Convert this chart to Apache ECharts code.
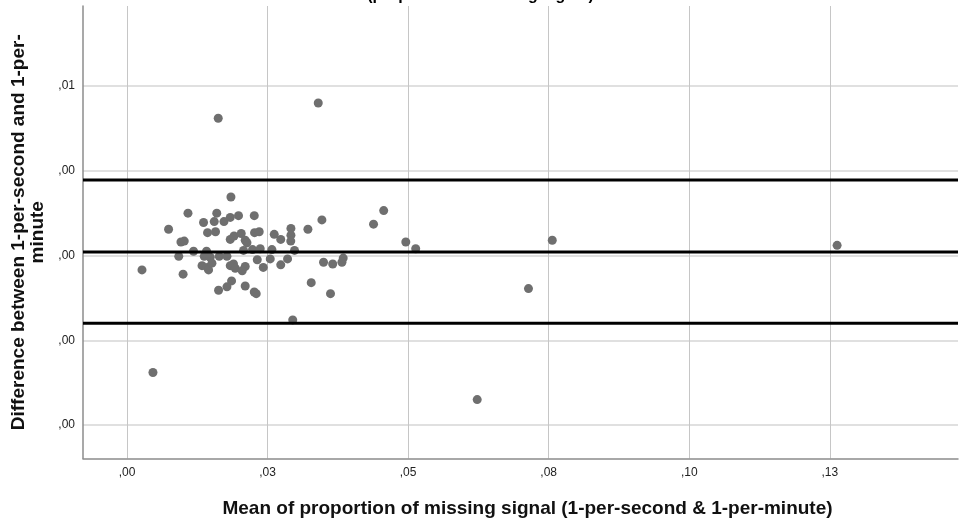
<!DOCTYPE html>
<html>
<head>
<meta charset="utf-8">
<script src="https://cdn.jsdelivr.net/npm/echarts@6/dist/echarts.min.js"></script>
<style>
  html, body { margin: 0; padding: 0; background: #ffffff; }
  #chart { width: 961px; height: 521px; }
</style>
</head>
<body>
<div id="chart"></div>
<script>
// Bland-Altman plot: 1-per-second vs 1-per-minute missing-signal proportions

// Mean of the two methods (x) for each recording
const meanVals = [
  0.01623, 0.03402, 0.00267, 0.00462, 0.06229, 0.07141, 0.07564, 0.12630,
  0.04959, 0.05135, 0.04566, 0.04385, 0.03467, 0.03218, 0.02948, 0.03277,
  0.03620, 0.03496, 0.03659, 0.03823, 0.03846,
  0.01849, 0.01085, 0.01597, 0.01362, 0.01552, 0.01725, 0.01837, 0.01984,
  0.02264, 0.00740, 0.01433, 0.01575, 0.02269, 0.02352, 0.02619, 0.02916,
  0.02916, 0.02913, 0.02735, 0.00960, 0.01019, 0.01837, 0.01904, 0.02032,
  0.02103, 0.02134, 0.01184, 0.01415, 0.00921, 0.01374, 0.01481, 0.01641,
  0.01778, 0.02073, 0.02233, 0.02370, 0.02578, 0.02980, 0.02317, 0.02548,
  0.02856, 0.02735, 0.02424, 0.00998, 0.01335, 0.01428, 0.01451, 0.01511,
  0.01837, 0.01895, 0.01926, 0.02103, 0.02050, 0.01860, 0.01778, 0.01629,
  0.02103, 0.02264, 0.02299
];

// Difference between the two methods (y) for the same recordings
const diffVals = [
  0.00462, 0.00480, 0.00283, 0.00162, 0.00130, 0.00261, 0.00318, 0.00312,
  0.00316, 0.00308, 0.00353, 0.00337, 0.00342, 0.00331, 0.00224, 0.00268,
  0.00255, 0.00292, 0.00290, 0.00292, 0.00297,
  0.00369, 0.00350, 0.00350, 0.00339, 0.00340, 0.00340, 0.00345, 0.00347,
  0.00347, 0.00331, 0.00327, 0.00328, 0.00327, 0.00328, 0.00325, 0.00332,
  0.00324, 0.00317, 0.00319, 0.00316, 0.00317, 0.00319, 0.00323, 0.00326,
  0.00318, 0.00315, 0.00305, 0.00305, 0.00299, 0.00299, 0.00298, 0.00299,
  0.00299, 0.00306, 0.00307, 0.00308, 0.00307, 0.00306, 0.00295, 0.00296,
  0.00296, 0.00289, 0.00286, 0.00278, 0.00288, 0.00286, 0.00283, 0.00291,
  0.00288, 0.00290, 0.00285, 0.00287, 0.00282, 0.00270, 0.00263, 0.00259,
  0.00264, 0.00257, 0.00255
];

// Mean difference and limits of agreement
const meanDiff = 0.00304;
const upperLoA = 0.00389;
const lowerLoA = 0.00220;

// Axis ranges and tick values
const xRange = [-0.00782, 0.1478];
const yRange = [0.000605, 0.005944];
const xTicks = [0, 0.025, 0.05, 0.075, 0.1, 0.125];
const yTicks = [0.001, 0.002, 0.003, 0.004, 0.005];

// Two-decimal labels with a decimal comma and no leading zero
function commaLabel(v) {
  const n = Math.round(v * 100 + 1e-6) / 100;
  return n.toFixed(2).replace(/^0\./, ',').replace(/^-0\./, '-,');
}

const points = meanVals.map((x, i) => [x, diffVals[i]]);

// Horizontal reference line across the whole x range
function refLine(y) {
  return {
    type: 'line',
    data: [[xRange[0], y], [xRange[1], y]],
    symbol: 'none',
    silent: true,
    z: 3,
    lineStyle: { color: '#000000', width: 3, type: 'solid' }
  };
}

const FONT = 'Liberation Sans, Arial, sans-serif';

const chart = echarts.init(document.getElementById('chart'), null, { renderer: 'canvas' });

chart.setOption({
  animation: false,
  backgroundColor: '#ffffff',
  title: {
    text: '(proportion of missing signal)',
    left: 'center',
    top: -17,
    textStyle: { fontFamily: FONT, fontSize: 16, fontWeight: 'bold', color: '#000000' }
  },
  grid: {
    left: 83, right: 3, top: 6, bottom: 62.5,
    containLabel: false, outerBoundsMode: 'none'
  },
  xAxis: {
    type: 'value',
    min: xRange[0],
    max: xRange[1],
    name: 'Mean of proportion of missing signal (1-per-second & 1-per-minute)',
    nameLocation: 'middle',
    nameGap: 41,
    nameTextStyle: { fontFamily: FONT, fontSize: 19, fontWeight: 'bold', color: '#111111', padding: [0, 0, 0, 14] },
    axisLine: { show: true, onZero: false, lineStyle: { color: '#8c8c8c', width: 1.5 } },
    axisTick: { show: false, customValues: xTicks },
    axisLabel: {
      customValues: xTicks,
      formatter: commaLabel,
      margin: 8,
      fontFamily: FONT,
      fontSize: 12,
      color: '#222222'
    },
    splitLine: { show: true, lineStyle: { color: '#c6c6c6', width: 1 } }
  },
  yAxis: {
    type: 'value',
    min: yRange[0],
    max: yRange[1],
    name: 'Difference between 1-per-second and 1-per-\nminute',
    nameLocation: 'middle',
    nameRotate: 90,
    nameGap: 34,
    nameTextStyle: { fontFamily: FONT, fontSize: 19, fontWeight: 'bold', color: '#111111', lineHeight: 19 },
    axisLine: { show: true, onZero: false, lineStyle: { color: '#8c8c8c', width: 1.5 } },
    axisTick: { show: false, customValues: yTicks },
    axisLabel: {
      customValues: yTicks,
      formatter: commaLabel,
      margin: 8,
      fontFamily: FONT,
      fontSize: 12,
      color: '#222222'
    },
    splitLine: { show: true, lineStyle: { color: '#d6d6d6', width: 1.5 } }
  },
  series: [
    {
      type: 'scatter',
      data: points,
      symbol: 'circle',
      symbolSize: 9,
      itemStyle: { color: '#6f6f6f', opacity: 1 },
      silent: true,
      z: 2
    },
    refLine(upperLoA),
    refLine(meanDiff),
    refLine(lowerLoA)
  ]
});
</script>
</body>
</html>
